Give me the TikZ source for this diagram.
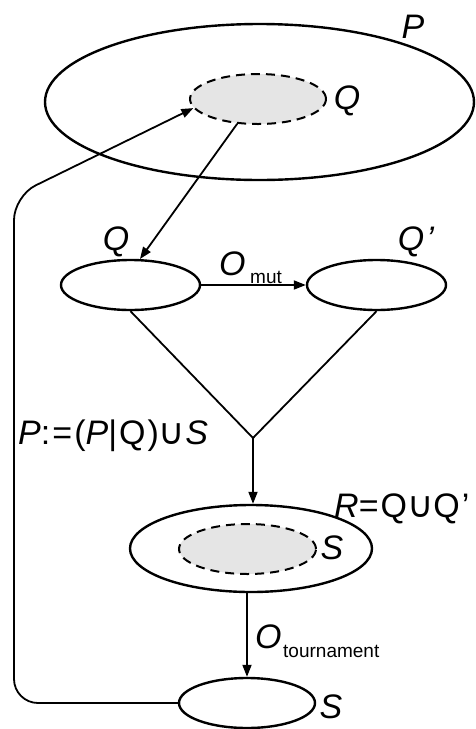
\documentclass[tikz,border=0pt]{standalone}
\usepackage{fontspec}
\setmainfont{Liberation Sans}
\newfontfamily\symfont{DejaVu Sans}
\usetikzlibrary{shapes.geometric,arrows.meta}
\newcommand{\cupsym}{{\symfont\fontsize{36}{36}\selectfont\upshape ∪}}
\begin{document}
\begin{tikzpicture}[x=1pt,y=-1pt,
 set/.style={draw,line width=2.4pt,ellipse,inner sep=0pt},
 sub/.style={draw,fill=gray!20,line width=2pt,ellipse,inner sep=0pt,dash pattern=on 9pt off 6pt},
 lab/.style={font=\fontsize{34}{34}\selectfont\addfontfeature{LetterSpace=6}\itshape,inner sep=0pt},
 small/.style={font=\fontsize{19}{19}\selectfont,inner sep=0pt},
 conn/.style={line width=1.8pt},
 arr/.style={conn,-{Triangle[length=12pt,width=9pt]}}]
\useasboundingbox (0,0) rectangle (475,729);
% top population
\node[set,minimum width=429,minimum height=156] (P) at (259.5,102) {};
\node[sub,minimum width=136,minimum height=50] (Qin) at (258,99) {};
\node[lab] (lP) at (413,27) {P};
\node[lab] (lQin) at (347,101) {Q};
% Q and Q'
\node[set,minimum width=139,minimum height=50] (Q) at (130.5,285) {};
\node[set,minimum width=139,minimum height=50] (Qp) at (376.5,285) {};
\node[lab] (lQ) at (116,242) {Q};
\node[lab] (lQp) at (416,242) {Q’};
\node[lab,anchor=base west] (lO1) at (219,275) {O};
\node[small,anchor=base west] (lmut) at (250,283) {mut};
% R
\node[set,minimum width=242,minimum height=87] (R) at (251,548.5) {};
\node[sub,minimum width=137,minimum height=50] (Sin) at (247.5,549) {};
\node[lab] (lS1) at (332,548) {S};
\node[lab,anchor=base west] (lR) at (334,517) {R{\upshape =Q}\cupsym{\upshape Q’}};
% bottom S
\node[set,minimum width=136,minimum height=50] (S) at (247,703) {};
\node[lab] (lS2) at (331,707) {S};
\node[lab,anchor=base west] (lO2) at (255,648) {O};
\node[small,anchor=base west] (ltour) at (283,657) {tournament};
% update label
\node[lab,anchor=base west] (lup) at (18,444) {P{\upshape :=(}P{\upshape |Q)}\cupsym S};
% connectors
\coordinate (J) at (253,438);
\draw[arr] (Qin.230) -- (Q.70);
\draw[arr] (Q.east) -- (Qp.west);
\draw[conn] (Q.south) -- (J) -- (Qp.south);
\draw[arr] (J) -- (J |- R.north);
\draw[arr] (S.north |- R.south) -- (S.north);
\draw[arr,rounded corners=24pt] (S.west) -- (14,703) -- (14,196) -- (Qin.188);
\end{tikzpicture}
\end{document}
